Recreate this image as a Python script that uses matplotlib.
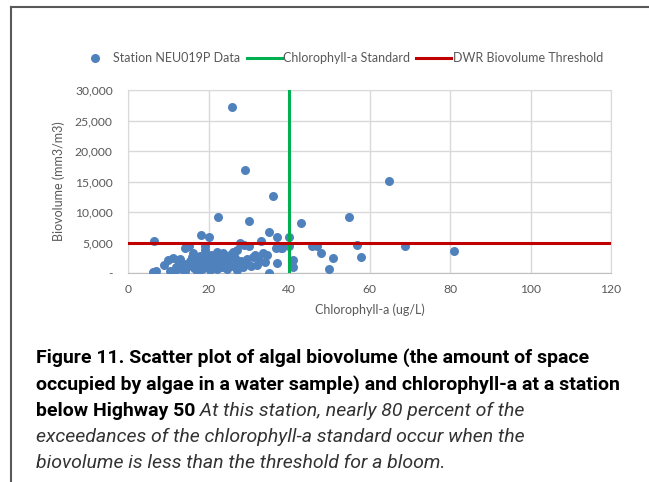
import matplotlib
matplotlib.use("Agg")
import matplotlib.pyplot as plt
from matplotlib.lines import Line2D
from matplotlib.ticker import FuncFormatter

# chlorophyll-a (ug/L) and biovolume (mm3/m3) at station NEU019P
chl = [25.8, 29.1, 36.0, 64.9, 54.9, 43.0, 22.4, 30.0, 68.8, 81.0, 56.9, 57.9, 49.9, 51.0,
       45.7, 47.0, 48.0, 40.0, 40.0, 41.0, 41.0, 38.3,
       6.5, 6.2, 7.0, 8.9, 9.9, 11.2, 10.4, 11.7, 13.0, 14.0, 14.2, 15.2, 14.2, 16.0, 17.1,
       18.1, 19.2, 20.1, 19.1, 16.2, 17.1, 18.4, 19.5, 20.3, 21.6, 22.1, 22.9, 23.3, 24.5,
       25.3, 26.1, 27.0, 27.8, 27.1, 28.8, 30.0, 29.1, 31.0, 32.0, 33.0, 33.5, 34.0, 35.0,
       35.0, 37.0, 37.0, 36.8, 38.0,
       12.0, 12.5, 13.5, 15.0, 15.5, 16.5, 17.5, 18.0, 18.5, 19.0, 20.0, 20.5, 21.0, 21.5,
       22.0, 22.5, 23.0, 23.5, 24.0, 24.5, 25.0, 25.5, 26.5, 28.0, 28.5, 30.5, 31.5, 32.5,
       34.5, 24.0, 26.0, 13.0, 16.8, 19.8, 21.2, 26.8, 29.6]
biovol = [27200, 16900, 12600, 15100, 9200, 8200, 9200, 8500, 4400, 3600, 4600, 2600, 700, 2500,
          4400, 4400, 3300, 5900, 4400, 2100, 1000, 4100,
          5200, 200, 300, 1300, 2100, 2500, 300, 300, 1800, 1500, 4100, 4400, 300, 2600, 300,
          6200, 4400, 5900, 3800, 3300, 2100, 2100, 1300, 500, 2100, 3400, 2900, 1000, 2100,
          2900, 1600, 3800, 4900, 500, 4600, 4400, 1600, 2600, 1300, 5200, 3300, 1800, 0,
          6700, 1600, 5900, 4100, 4100,
          1000, 2200, 700, 1200, 2000, 800, 1500, 2800, 700, 2400, 1700, 3000, 900, 1500,
          600, 2400, 1800, 3200, 1300, 700, 1700, 1100, 2400, 2000, 1000, 1200, 3000, 2200,
          3000, 2600, 3500, 2300, 1100, 2700, 2500, 1300, 2300]

std_x = [40, 40]
std_y = [0, 30000]
thr_x = [0, 120]
thr_y = [5000, 5000]

x_ticks = [0, 20, 40, 60, 80, 100, 120]
y_ticks = [0, 5000, 10000, 15000, 20000, 25000, 30000]

plt.rcParams['font.family'] = ['Lato', 'DejaVu Sans']
tick_col = '#595959'
grid_col = '#d9d9d9'

fig = plt.figure(figsize=(6.49, 4.82), dpi=100)
ax = fig.add_axes([128/649, 1 - 273/482, (611-128)/649, (273-90)/482])

ax.scatter(chl, biovol, s=42, color='#4f81bd', zorder=3, linewidths=0)
ax.plot(std_x, std_y, color='#00b050', lw=2.2, zorder=4)
ax.plot(thr_x, thr_y, color='#c00000', lw=2.2, zorder=4)

ax.set_xlim(0, 120)
ax.set_ylim(0, 30000)
ax.set_xticks(x_ticks)
ax.set_yticks(y_ticks)
ax.yaxis.set_major_formatter(FuncFormatter(lambda v, p: '-' if v == 0 else f"{int(v):,}"))
ax.grid(True, color=grid_col, lw=1)
ax.set_axisbelow(True)
for s in ax.spines.values():
    s.set_color(grid_col)
ax.spines['bottom'].set_color('#bfbfbf')
ax.tick_params(length=0, labelsize=8.7, colors=tick_col)
ax.tick_params(axis='y', pad=11)
ax.tick_params(axis='x', pad=8)
ax.set_xlabel('Chlorophyll-a (ug/L)', fontsize=9, color=tick_col, labelpad=6)
ax.set_ylabel('Biovolume (mm3/m3)', fontsize=9, color=tick_col, labelpad=7)

handles = [Line2D([], [], marker='o', ls='', color='#4f81bd', markersize=6.5, markeredgewidth=0),
           Line2D([], [], color='#00b050', lw=2.2),
           Line2D([], [], color='#c00000', lw=2.2)]
labels = ['Station NEU019P Data', 'Chlorophyll-a Standard', 'DWR Biovolume Threshold']
leg = fig.legend(handles, labels, ncol=3, loc='center', bbox_to_anchor=(340/649, 1 - 58/482),
                 frameon=False, fontsize=9, handlelength=2.8, handletextpad=0.1, columnspacing=0.5)
for t in leg.get_texts():
    t.set_color(tick_col)

# frame around the figure panel
fig.add_artist(Line2D([11/649, 11/649], [0, 1 - 7/482], transform=fig.transFigure, color='#595959', lw=1.5))
fig.add_artist(Line2D([11/649, 1], [1 - 7/482, 1 - 7/482], transform=fig.transFigure, color='#595959', lw=1.5))

cap_fam = ['Roboto', 'DejaVu Sans']
cap_size = 14
cx = 36/649
fig.text(cx, 1 - 358/482, 'Figure 11. Scatter plot of algal biovolume (the amount of space',
         fontsize=cap_size, fontweight='bold', family=cap_fam, va='center')
fig.text(cx, 1 - 385/482, 'occupied by algae in a water sample) and chlorophyll-a at a station',
         fontsize=cap_size, fontweight='bold', family=cap_fam, va='center')
b = fig.text(cx, 1 - 411/482, 'below Highway 50', fontsize=cap_size, fontweight='bold',
             family=cap_fam, va='center')
ax.annotate(' At this station, nearly 80 percent of the', xy=(1, 0), xycoords=b,
            fontsize=cap_size, style='italic', family=cap_fam, color='#333333',
            va='bottom', annotation_clip=False)
fig.text(cx, 1 - 437/482, 'exceedances of the chlorophyll-a standard occur when the',
         fontsize=cap_size, style='italic', family=cap_fam, color='#333333', va='center')
fig.text(cx, 1 - 463/482, 'biovolume is less than the threshold for a bloom.',
         fontsize=cap_size, style='italic', family=cap_fam, color='#333333', va='center')

fig.savefig('out.png', dpi=100)
